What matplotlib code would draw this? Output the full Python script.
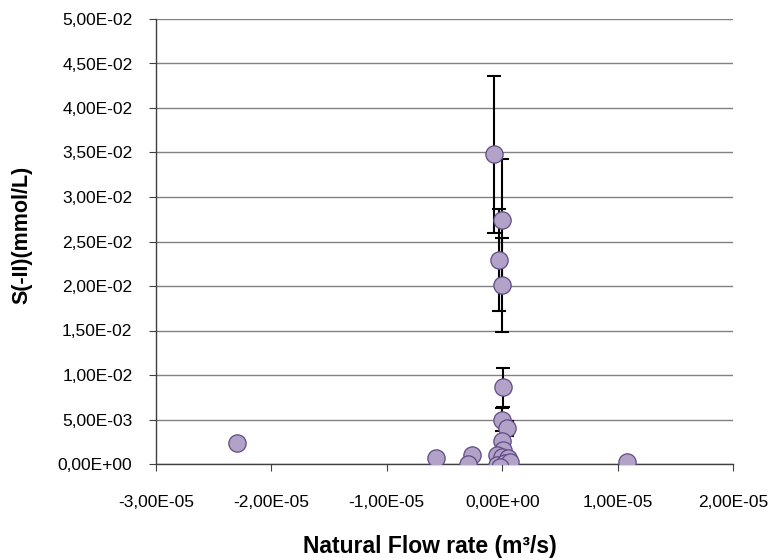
import matplotlib
matplotlib.use("Agg")
import matplotlib.pyplot as plt
from matplotlib.ticker import FuncFormatter, MultipleLocator

# natural flow rate (m3/s) and S(-II) (mmol/L), with error (mmol/L)
flow = [-23.0e-6, -5.7e-6, -2.6e-6, -3.0e-6, 10.8e-6,
        -0.7e-6, 0.0, -0.3e-6, 0.0, 0.1e-6,
        0.0, 0.45e-6, 0.0, 0.1e-6, -0.45e-6,
        0.0, 0.5e-6, -0.45e-6, 0.25e-6, 0.7e-6, -0.15e-6]
sulfide = [2.4e-3, 0.7e-3, 1.0e-3, 0.0, 0.2e-3,
           34.8e-3, 27.4e-3, 22.9e-3, 20.1e-3, 8.6e-3,
           5.0e-3, 4.0e-3, 2.6e-3, 1.6e-3, 1.0e-3,
           0.8e-3, 0.7e-3, -0.1e-3, 0.1e-3, 0.2e-3, -0.3e-3]
error = [0, 0, 0, 0, 0,
         8.8e-3, 6.9e-3, 5.7e-3, 5.3e-3, 2.2e-3,
         1.25e-3, 0.8e-3, 0.3e-3, 0, 0,
         0, 0, 0, 0, 0, 0]

plt.rcParams['font.family'] = ['Liberation Sans', 'DejaVu Sans']

fig = plt.figure(figsize=(7.68, 5.6), dpi=100)
ax = fig.add_axes([156 / 768, 1 - 464 / 560, (733 - 156) / 768, (464 - 19) / 560])

# error bars under the markers
ax.errorbar(flow, sulfide, yerr=error, fmt="none", ecolor="black",
            elinewidth=1.5, capsize=5, capthick=1.5, zorder=2)
ax.scatter(flow, sulfide, s=155, color="#b3a2c7", edgecolor="#5e4a86",
           linewidth=0.9, zorder=3)

ax.set_xlim(-3e-5, 2e-5)
ax.set_ylim(0, 0.05)
ax.xaxis.set_major_locator(MultipleLocator(1e-5))
ax.yaxis.set_major_locator(MultipleLocator(0.005))


def excel_fmt(v, pos):
    return f"{v:.2E}".replace(".", ",")


ax.xaxis.set_major_formatter(FuncFormatter(excel_fmt))
ax.yaxis.set_major_formatter(FuncFormatter(excel_fmt))

ax.grid(axis="y", color="#808080", linewidth=1)
ax.set_axisbelow(True)
for s in ["top", "right"]:
    ax.spines[s].set_visible(False)
for s in ["left", "bottom"]:
    ax.spines[s].set_color("#404040")
    ax.spines[s].set_linewidth(1)
ax.spines["bottom"].set_zorder(1)

ax.tick_params(axis="y", direction="out", length=5, pad=12, labelsize=12.5,
               color="#404040")
ax.tick_params(axis="x", direction="out", length=5, pad=17, labelsize=12.5,
               color="#404040")

fig.text(430 / 768, 1 - 547 / 560, "Natural Flow rate (m³/s)",
         ha="center", va="center", fontsize=16.5, fontweight="bold")
fig.text(22 / 768, 1 - 235 / 560, "S(-II)(mmol/L)", rotation=90,
         ha="center", va="center", fontsize=15.5, fontweight="bold")

fig.savefig("out.png", dpi=100)
